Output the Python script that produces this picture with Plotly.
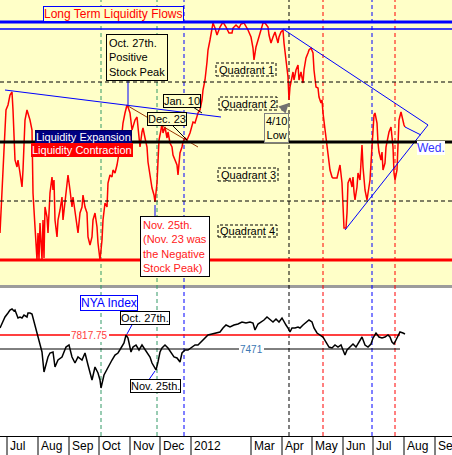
import pandas as pd
import plotly.graph_objects as go

START = pd.Timestamp("2011-07-01")  # x values below are days counted from this date

# long term liquidity oscillator (top panel)
liq_days = [
    -7, -5, -3, -1, 1, 3, 5, 6, 7, 8,
    10, 11, 13, 15, 16, 18, 20, 21, 23, 25,
    26, 28, 30, 31, 32, 33, 35, 36, 37, 38,
    40, 41, 43, 45, 46, 47, 48, 50, 51, 53,
    55, 56, 58, 60, 61, 63, 65, 66, 68, 70,
    71, 73, 75, 76, 78, 80, 81, 83, 85, 86,
    88, 90, 91, 93, 95, 96, 98, 100, 101, 103,
    105, 106, 108, 110, 111, 113, 115, 116, 118, 119,
    120, 121, 123, 125, 126, 128, 130, 131, 133, 135,
    136, 138, 140, 141, 143, 145, 147, 148, 150, 151,
    152, 154, 155, 156, 158, 160, 161, 163, 165, 166,
    168, 170, 171, 173, 175, 176, 178, 180, 183, 185,
    186, 188, 190, 191, 193, 195, 196, 198, 200, 201,
    203, 205, 206, 208, 210, 213, 216, 219, 222, 225,
    226, 229, 232, 234, 237, 241, 244, 246, 247, 249,
    251, 252, 255, 256, 258, 261, 262, 264, 266, 268,
    271, 272, 274, 276, 277, 279, 281, 282, 283, 285,
    286, 287, 289, 291, 292, 294, 296, 297, 299, 301,
    302, 304, 306, 307, 309, 311, 312, 314, 315, 316,
    318, 320, 321, 323, 325, 326, 330, 331, 333, 335,
    336, 337, 339, 340, 341, 343, 345, 346, 347, 348,
    350, 351, 353, 355, 356, 357, 358, 360, 361, 363,
    364, 365, 366, 367, 368, 370, 371, 372, 374, 375,
    376, 378, 379, 380, 382, 384, 385, 386, 387, 388,
    390, 391, 392, 394, 395, 397, 398,
]
liq_vals = [
    -91, -55, -8, 32, 37, 47, 50, 32, -5, -18,
    -25, -18, -31, -45, -28, 22, 32, 29, 22, 12,
    -51, -85, -118, -91, -118, -81, -118, -78, -116, -65,
    -75, -91, -51, -35, -48, -38, -78, -95, -78, -68,
    -55, -78, -58, -38, -33, -48, -65, -55, -71, -85,
    -91, -71, -65, -53, -65, -71, -95, -103, -95, -78,
    -71, -85, -101, -118, -98, -78, -61, -65, -41, -33,
    -35, -28, -31, -23, -18, -5, 9, 19, 29, 35,
    37, 35, 29, 12, 15, 22, 25, 12, -5, 10,
    14, 4, -5, -20, -35, -46, -53, -60, -41, -23,
    2, 12, 19, 9, 15, 4, 10, -1, -5, -13,
    -18, -23, -33, -11, -5, 0, 4, 2, 9, 15,
    20, 19, 25, 29, 32, 42, 52, 62, 80, 92,
    102, 112, 119, 114, 107, 115, 120, 115, 109, 109,
    114, 117, 114, 118, 119, 112, 105, 94, 82, 95,
    102, 105, 115, 119, 119, 115, 107, 99, 105, 110,
    99, 105, 110, 112, 99, 82, 65, 42, 55, 65,
    70, 62, 72, 77, 62, 70, 59, 72, 84, 89,
    92, 94, 89, 72, 55, 54, 45, 39, 42, 29,
    12, -1, -15, -28, -35, -36, -36, -31, -23, -41,
    -70, -86, -86, -71, -41, -36, -45, -35, -50, -58,
    -45, -31, -38, -3, -25, -38, -48, -58, -51, -38,
    -21, -5, 19, 27, 29, 19, -1, -10, -18, -10,
    -28, -21, -5, 0, 10, 15, 5, -5, -31, -38,
    -28, 5, 22, 30, 25, 17, 15,
]

# NYSE composite (bottom panel)
nya_days = [
    -7, -4, -2, 1, 3, 5, 7, 8, 10, 11,
    13, 15, 17, 20, 21, 23, 25, 26, 28, 29,
    31, 33, 35, 37, 39, 41, 43, 46, 48, 51,
    55, 59, 62, 65, 68, 71, 75, 78, 81, 83,
    85, 88, 91, 93, 94, 97, 101, 105, 108, 111,
    114, 117, 119, 121, 124, 126, 129, 132, 135, 137,
    140, 143, 145, 147, 149, 151, 153, 155, 158, 161,
    164, 167, 170, 173, 175, 178, 181, 185, 188, 191,
    194, 198, 201, 205, 209, 213, 216, 219, 223, 227,
    231, 235, 239, 243, 246, 248, 251, 254, 257, 260,
    263, 266, 269, 272, 275, 277, 279, 281, 283, 285,
    288, 291, 293, 296, 299, 302, 305, 307, 310, 313,
    316, 319, 322, 325, 328, 331, 334, 336, 338, 340,
    343, 346, 349, 352, 355, 358, 361, 364, 366, 369,
    372, 375, 378, 381, 383, 385, 387, 389, 391, 393,
    396, 398,
]
nya_vals = [
    7991, 8140, 8264, 8363, 8437, 8462, 8412, 8437, 8313, 8239,
    8264, 8239, 8313, 8264, 8363, 8363, 8338, 8239, 8115, 7991,
    7818, 7620, 7397, 6901, 7074, 7273, 7372, 7397, 7025, 7198,
    7273, 7520, 7570, 7273, 7124, 7273, 7198, 7372, 7074, 6876,
    6703, 7025, 6876, 6703, 6505, 6827, 7025, 7198, 7322, 7372,
    7496, 7620, 7818, 7743, 7397, 7520, 7570, 7446, 7570, 7496,
    7372, 7273, 7124, 7025, 6951, 7149, 7397, 7496, 7570, 7496,
    7397, 7273, 7248, 7149, 7372, 7446, 7446, 7520, 7570, 7570,
    7644, 7743, 7818, 7843, 7867, 7892, 7991, 8065, 8016, 8065,
    8090, 8140, 8115, 8140, 8115, 7942, 8090, 8140, 8189, 8264,
    8189, 8140, 8214, 8140, 8239, 8140, 8065, 7991, 7892, 7991,
    7991, 8016, 7991, 8065, 8140, 8189, 8140, 7991, 7867, 7818,
    7768, 7644, 7520, 7496, 7570, 7520, 7570, 7446, 7322, 7446,
    7520, 7595, 7520, 7644, 7768, 7570, 7520, 7595, 7743, 7867,
    7768, 7743, 7768, 7818, 7768, 7644, 7595, 7694, 7818, 7892,
    7867, 7843,
]

# horizontal levels of the oscillator panel
liq_levels = [120, 113, 60, 0, -59, -118]
liq_level_colors = ["#0000FF", "#0000FF", "black", "black", "black", "#FF0000"]
liq_level_widths = [3, 1.5, 1, 3, 1, 3]
liq_level_dash = ["solid", "solid", "4px,3px", "solid", "4px,3px", "solid"]

nya_levels = [7817.75, 7471]
nya_level_labels = ["7817.75", "7471"]
nya_level_end = 393

# event days (vertical dashed lines)
event_days = [94, 150, 177, 282, 316, 365, 388]
event_colors = ["#339966", "#339966", "#0000FF", "black", "#FF0000", "#0000FF", "#FF0000"]

month_starts = ["2011-07-01", "2011-08-01", "2011-09-01", "2011-10-01", "2011-11-01",
                "2011-12-01", "2012-01-01", "2012-03-01", "2012-04-01", "2012-05-01",
                "2012-06-01", "2012-07-01", "2012-08-01", "2012-09-01"]
month_labels = ["Jul", "Aug", "Sep", "Oct", "Nov", "Dec", "2012", "Mar", "Apr", "May",
                "Jun", "Jul", "Aug", "Sep"]

# drawn trend lines: (day0, val0, day1, val1, colour)
liq_trends = [
    (-2, 52, 214, 25, "#0000FF"),
    (121, 65, 121, 36, "#0000FF"),
    (121, 36, 191, -5, "#993300"),
    (186, 35, 195, 29, "black"),
    (166, 16, 180, 2, "black"),
    (148, -63, 148, -77, "#0000FF"),
    (276, 113, 421, 17, "#0000FF"),
    (338, -88, 421, 17, "#0000FF"),
    (398, 15, 414, 7, "#0000FF"),
]
nya_trends = [
    (120, 7843, 126, 8115, "#0000FF"),
    (148, 6926, 141, 6678, "#0000FF"),
]

YELLOW = "#FFFFC8"
FONT = "Arial, Liberation Sans, sans-serif"
H_PLOT = 436.0


def day(d):
    return START + pd.Timedelta(days=d)


fig = go.Figure()

fig.add_trace(go.Scatter(
    x=[day(d) for d in liq_days], y=liq_vals, mode="lines",
    line=dict(color="#FF0000", width=1.5), xaxis="x2", yaxis="y", hoverinfo="skip",
))
for d0, v0, d1, v1, c in liq_trends:
    fig.add_trace(go.Scatter(x=[day(d0), day(d1)], y=[v0, v1], mode="lines",
                             line=dict(color=c, width=1), xaxis="x2", yaxis="y", hoverinfo="skip"))

for lvl, col, w in zip(nya_levels, ["#FF0000", "black"], [1.5, 1]):
    fig.add_trace(go.Scatter(x=[day(-7), day(nya_level_end)], y=[lvl, lvl], mode="lines",
                             line=dict(color=col, width=w), xaxis="x", yaxis="y2", hoverinfo="skip"))
fig.add_trace(go.Scatter(
    x=[day(d) for d in nya_days], y=nya_vals, mode="lines",
    line=dict(color="black", width=1.5), xaxis="x", yaxis="y2", hoverinfo="skip",
))
for d0, v0, d1, v1, c in nya_trends:
    fig.add_trace(go.Scatter(x=[day(d0), day(d1)], y=[v0, v1], mode="lines",
                             line=dict(color=c, width=1), xaxis="x", yaxis="y2", hoverinfo="skip"))

shapes = []
# panel backgrounds and separator
shapes.append(dict(type="rect", xref="paper", yref="paper", x0=0, x1=1, y0=151 / H_PLOT, y1=1,
                   fillcolor=YELLOW, line=dict(width=0), layer="below"))
shapes.append(dict(type="rect", xref="paper", yref="paper", x0=0, x1=1, y0=148 / H_PLOT, y1=151 / H_PLOT,
                   fillcolor="#9C9C9C", line=dict(width=0), layer="below"))
for d, c in zip(event_days, event_colors):
    shapes.append(dict(type="line", xref="x", yref="paper", x0=day(d), x1=day(d), y0=0, y1=1,
                       line=dict(color=c, width=1, dash="4px,3px"), layer="below"))
for v, c, w, ds in zip(liq_levels, liq_level_colors, liq_level_widths, liq_level_dash):
    shapes.append(dict(type="line", xref="paper", yref="y", x0=0, x1=1, y0=v, y1=v,
                       line=dict(color=c, width=w, dash=ds), layer="above"))
# month separators in the label strip
for m in month_starts:
    shapes.append(dict(type="line", xref="x", yref="paper", x0=m, x1=m, y0=0, y1=-19 / H_PLOT,
                       line=dict(color="black", width=1)))

# dashed quadrant boxes
quad_boxes = [(209, 269, 79, 66), (212, 270, 45, 32), (211, 271, -26, -39), (211, 270, -83, -95)]
for i, (d0, d1, v0, v1) in enumerate(quad_boxes):
    shapes.append(dict(type="rect", xref="x2", yref="y", x0=day(d0), x1=day(d1), y0=v1, y1=v0,
                       fillcolor=YELLOW, line=dict(color="black", width=1, dash="3px,2px"), layer="above"))

annotations = []


def box(text, d, v, xref, yref, color, border=None, bg=None, size=11, align="center", pad=1):
    annotations.append(dict(
        text=text, x=day(d), y=v, xref=xref, yref=yref, showarrow=False,
        font=dict(family=FONT, size=size, color=color), align=align,
        bordercolor=border if border else "rgba(0,0,0,0)", borderwidth=1 if border else 0,
        borderpad=pad, bgcolor=bg if bg else "rgba(0,0,0,0)", xanchor="center", yanchor="middle",
    ))


box("Long Term Liquidity Flows", 106.5, 128, "x2", "y", "#FF0000", "#0000FF", YELLOW, size=12, pad=0)
box("Oct. 27th.<br>Positive<br>Stock Peak", 130, 85, "x2", "y", "black", "black", YELLOW, align="left", pad=2)
box("Jan. 10", 174.5, 41.5, "x2", "y", "black", "black", YELLOW, pad=0)
box("Dec. 23", 159.5, 23, "x2", "y", "black", "black", YELLOW, pad=0)
box("Liquidity Expansion", 76, 5.5, "x2", "y", "white", "#000060", "#000080", pad=0)
box("Liquidity Contraction", 74.5, -8, "x2", "y", "white", "#FF0000", "#FF0000", pad=0)
box("4/10<br>Low", 269.5, 14, "x2", "y", "black", "#808080", YELLOW, pad=1)
box("Nov. 25th.<br>(Nov. 23 was<br>the Negative<br>Stock Peak)", 168, -104.5, "x2", "y", "#FF2020",
    "black", "white", align="left", pad=2)
box("Wed.", 424, -5.5, "x2", "y", "#3333FF", None, "white", size=12, pad=0)
for i, (d0, d1, v0, v1) in enumerate(quad_boxes):
    box("Quadrant %d" % (i + 1), (d0 + d1) / 2, (v0 + v1) / 2, "x2", "y", "black")

box("NYA Index", 102, 8610, "x", "y2", "#0000FF", "#0000FF", "white", size=12, pad=0)
box("Oct. 27th.", 138, 8239, "x", "y2", "black", "black", "white", size=11, pad=0)
box("Nov. 25th.", 148.5, 6554, "x", "y2", "black", "black", "white", size=11, pad=0)
box("7817.75", 82, 7817.75, "x", "y2", "#FF4040", None, "white", size=10, pad=1)
box("7471", 244.5, 7471, "x", "y2", "#3C78B4", None, "white", size=10, pad=1)

# 4/10 low arrow
annotations.append(dict(x=day(282), y=39, xref="x2", yref="y", text="", showarrow=True,
                        ax=-9, ay=9, arrowhead=2, arrowsize=1, arrowwidth=2, arrowcolor="#707070"))

for m, lab in zip(month_starts, month_labels):
    annotations.append(dict(text=lab, x=m, y=0, xref="x", yref="paper", showarrow=False,
                            xanchor="left", yanchor="middle", xshift=1, yshift=-10,
                            font=dict(family=FONT, size=12, color="black")))

fig.update_layout(
    width=452, height=455,
    margin=dict(l=0, r=0, t=0, b=19),
    paper_bgcolor="white", plot_bgcolor="white",
    showlegend=False,
    xaxis=dict(type="date", domain=[0, 1], anchor="y2", range=[day(-7), day(445)],
               showticklabels=False, showgrid=False, zeroline=False, ticks="",
               showline=True, linecolor="black", linewidth=1),
    xaxis2=dict(type="date", domain=[0, 1], anchor="y", matches="x", visible=False),
    yaxis=dict(domain=[151 / H_PLOT, 1], range=[-143, 142], visible=False, anchor="x2"),
    yaxis2=dict(domain=[0, 148 / H_PLOT], range=[5316, 8982], visible=False, anchor="x"),
    shapes=shapes,
    annotations=annotations,
    font=dict(family=FONT),
)

fig.write_html("out.html", config={"displayModeBar": False},
               post_script="document.body.style.margin='0';")
